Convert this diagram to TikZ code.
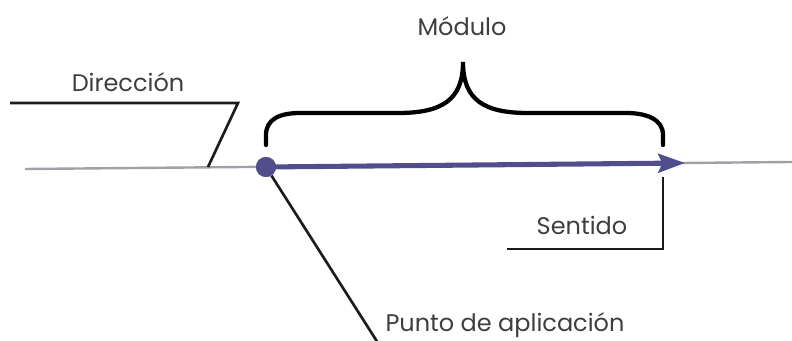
\documentclass[tikz,border=0pt]{standalone}
\usepackage{fontspec}
\setmainfont{Poppins}
\definecolor{vecblue}{RGB}{80, 78, 140}
\definecolor{axisgray}{RGB}{160, 160, 166}
\definecolor{leadblack}{RGB}{28, 28, 30}
\definecolor{textgray}{RGB}{62, 62, 66}
\usetikzlibrary{arrows.meta, positioning, calc}

\begin{document}
\begin{tikzpicture}[x=0.75pt, y=-0.75pt,
    axisline/.style={line width=1.8pt, axisgray},
    vector/.style={line width=3.8pt, vecblue, -{Stealth[length=20pt, width=14pt, inset=3pt]}},
    leader/.style={line width=2pt, leadblack, line join=miter},
    bracket/.style={line width=3.2pt, black, line cap=round},
    dot/.style={circle, fill=vecblue, minimum size=15pt, inner sep=0pt},
    lbltext/.style={font=\fontsize{18}{21}\selectfont, textgray, inner sep=0pt, anchor=base}]
  \useasboundingbox (0,0) rectangle (792,341);

  % Line of action and vector
  \coordinate (left) at (25,169);
  \coordinate (right) at (792,162);
  \coordinate (tip) at (685,163);
  \draw[axisline] (left) -- (right);
  \node[dot] (origin) at (266,167) {};
  \draw[vector] (origin.center) -- (tip);
  \node[dot] at (origin) {};

  % Direccion
  \node[lbltext] (dirlabel) at (128,92) {Dirección};
  \coordinate (dirfoot) at (208,167);
  \coordinate (dirknee) at (238,103);
  \coordinate (dirend) at (10,103);
  \draw[leader] (dirfoot) -- (dirknee) -- (dirend);

  % Modulo bracket
  \node[lbltext] (modlabel) at (462,36) {Módulo};
  \coordinate (bracetop) at (463,62);
  \draw[bracket] (266,145) -- (266,135) .. controls (266,119) and (280,113) .. (300,113)
    -- (398,113) .. controls (442,113) and (463,100) .. (bracetop)
    .. controls (463,100) and (484,113) .. (528,113)
    -- (626,113) .. controls (646,113) and (663,119) .. (663,135) -- (663,145);

  % Sentido
  \node[lbltext] (sentlabel) at (582,235) {Sentido};
  \coordinate (sentfoot) at (663,177);
  \coordinate (sentknee) at (663,249);
  \coordinate (sentend) at (507,249);
  \draw[leader] (sentfoot) -- (sentknee) -- (sentend);

  % Punto de aplicacion
  \node[lbltext] (puntolabel) at (505,332) {Punto de aplicación};
  \coordinate (puntoend) at (378,343);
  \draw[leader] (origin) -- (puntoend);
\end{tikzpicture}
\end{document}
